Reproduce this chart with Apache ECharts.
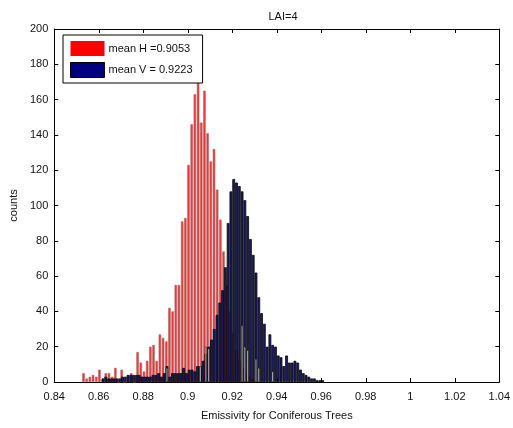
<!DOCTYPE html>
<html>
<head>
<meta charset="utf-8">
<script src="https://cdn.jsdelivr.net/npm/echarts@6/dist/echarts.min.js"></script>
<style>
html,body{margin:0;padding:0;background:#fff;}
#c{width:513px;height:428px;}
</style>
</head>
<body>
<div id="c"></div>
<script>
// Histogram H (red): bin centres start at redBinStart, spaced redBinWidth
const redBinStart = 0.85315;
const redBinWidth = 0.00143;
const redCounts = [5,2,3,4,3,7,1,5,5,3,8,0,7,0,1,5,0,17,11,6,12,20,21,12,27,25,23,42,40,55,55,91,93,123,146,163,170,147,165,141,125,132,109,92,74,55,40,28,18,12,8,5,3,2,1];

// Histogram V (blue)
const blueBinStart = 0.8619;
const blueBinWidth = 0.00125;
const blueCounts = [2,3,2,2,2,2,2,3,3,4, 4,4,4,4,3,3,3,3,4,4, 5,3,5,9,3,5,5,5,5,8, 5,7,7,6,9,9,12,16,20,24, 30,38,45,52,65,90,108,115,113,111, 108,103,94,81,72,62,48,39,33,20, 27,21,20,15,14,9,15,11,11,12, 11,7,5,4,3,2,2,1,1,1];

// light bars seen inside the V histogram (same bins as V)
const lightIdx = [23,35,37,38,50,51,52,55,56,61];
const lightCounts = [8,9,20,19,32,20,18,13,8,6];

const xTicks = {min:0.84, max:1.04, step:0.02};
const yTicks = {min:0, max:200, step:20};
const legendNames = ['mean H =0.9053', 'mean V = 0.9223'];

const redData = redCounts.map((v,i)=>[redBinStart + i*redBinWidth, v]);
const blueData = blueCounts.map((v,i)=>[blueBinStart + i*blueBinWidth, v]);
const lightData = lightIdx.map((k,n)=>[blueBinStart + k*blueBinWidth, lightCounts[n]]);

const font = 'Liberation Sans, Arial, sans-serif';
const txt = '#111';
function xAx(pos, showLabel, show){
  return {
    type:'value', position:pos, min:xTicks.min, max:xTicks.max, interval:xTicks.step,
    show: show,
    axisLine:{show:true, onZero:false, lineStyle:{color:'#000', width:1}},
    axisTick:{show:true, inside:true, length:4, lineStyle:{color:'#000'}},
    axisLabel:{show:showLabel, margin:9, color:txt, fontSize:11, fontFamily:font,
      formatter:v=>String(+(+v).toFixed(2))},
    splitLine:{show:false}
  };
}
function yAx(pos, showLabel){
  return {
    type:'value', position:pos, min:yTicks.min, max:yTicks.max, interval:yTicks.step,
    axisLine:{show:true, onZero:false, lineStyle:{color:'#000', width:1}},
    axisTick:{show:true, inside:true, length:4, lineStyle:{color:'#000'}},
    axisLabel:{show:showLabel, margin:6, color:txt, fontSize:11, fontFamily:font},
    splitLine:{show:false}
  };
}

const chart = echarts.init(document.getElementById('c'), null, {renderer:'canvas'});
const xa0 = xAx('bottom', true, true);
xa0.name = 'Emissivity for Coniferous Trees';
xa0.nameLocation = 'middle';
xa0.nameGap = 28;
xa0.nameTextStyle = {color:txt, fontSize:11, fontFamily:font};
const ya0 = yAx('left', true);
ya0.name = 'counts';
ya0.nameLocation = 'middle';
ya0.nameRotate = 90;
ya0.nameGap = 34;
ya0.nameTextStyle = {color:txt, fontSize:11, fontFamily:font};

chart.setOption({
  animation:false,
  backgroundColor:'#fff',
  title:{text:'LAI=4', left:278, top:6, textAlign:'center',
    textStyle:{color:txt, fontSize:11, fontWeight:'normal', fontFamily:font}},
  grid:{left:54, right:12, top:29, bottom:46, containLabel:false},
  legend:{
    left:63, top:35, orient:'vertical', icon:'rect',
    itemWidth:34, itemHeight:15, itemGap:6,
    padding:[6,10,5,7],
    backgroundColor:'#fff', borderColor:'#000', borderWidth:1, borderRadius:0,
    textStyle:{color:txt, fontSize:11, fontFamily:font, padding:[4,0,0,-1]},
    data:[
      {name:legendNames[0], itemStyle:{color:'#ff0000', borderWidth:0}},
      {name:legendNames[1], itemStyle:{color:'#000080', borderColor:'#000', borderWidth:1}}
    ]
  },
  xAxis:[xa0, xAx('top', false, true), xAx('bottom', false, false)],
  yAxis:[ya0, yAx('right', false)],
  series:[
    {name:legendNames[0], type:'bar', xAxisIndex:0, yAxisIndex:0, data:redData,
     barWidth:2.5, itemStyle:{color:'#ef3535', borderColor:'#b06a6a', borderWidth:0.6}},
    {name:legendNames[1], type:'bar', xAxisIndex:1, yAxisIndex:0, data:blueData,
     barWidth:2.8, itemStyle:{color:'#1c1c5e', borderColor:'#050510', borderWidth:0.8}},
    {name:'light', type:'bar', xAxisIndex:2, yAxisIndex:0, data:lightData,
     barWidth:1.8, itemStyle:{color:'#e6e6e6', borderColor:'#111', borderWidth:0.5}}
  ]
});
</script>
</body>
</html>
